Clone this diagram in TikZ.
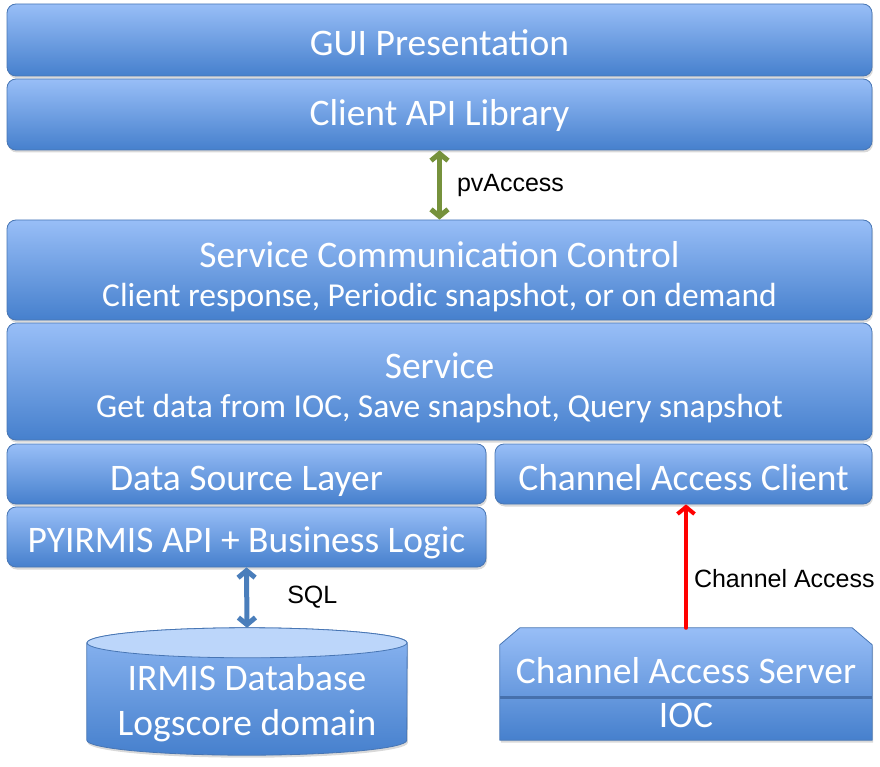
\documentclass[tikz,border=0pt]{standalone}
\usepackage{fontspec}
\setmainfont{Carlito}
\newfontfamily\arialfont{Liberation Sans}
\usepackage{tikz}
\usetikzlibrary{arrows.meta}
\usetikzlibrary{shadows}
\usetikzlibrary{positioning}

\definecolor{layertop}{RGB}{152,190,247}
\definecolor{layerbot}{RGB}{70,128,205}
\definecolor{layerline}{RGB}{72,118,180}
\definecolor{dbtop}{RGB}{188,214,250}
\definecolor{dbbody}{RGB}{140,182,242}
\definecolor{iocsep}{RGB}{70,112,172}
\definecolor{pvgreen}{RGB}{118,146,60}
\definecolor{sqlblue}{RGB}{74,126,187}

\tikzset{
  layer/.style={draw=layerline, line width=0.8pt, rounded corners=9pt,
    top color=layertop, bottom color=layerbot, inner sep=0pt,
    drop shadow={opacity=0.3, shadow xshift=1pt, shadow yshift=-2.5pt}},
  hull/.style={inner sep=0pt},
  layertext/.style={text=white, anchor=base, inner sep=0pt, font=\fontsize{37.5}{41}\selectfont},
  subtext/.style={layertext, font=\fontsize{33.5}{37}\selectfont},
  proto/.style={text=black, inner sep=0pt, font=\arialfont\fontsize{25}{29}\selectfont},
  twoway/.style={line width=5pt, {Straight Barb[length=7pt, width=17pt]}-{Straight Barb[length=7pt, width=17pt]}},
  oneway/.style={line width=4pt, -{Straight Barb[length=7pt, width=17pt]}}
}

\begin{document}
\begin{tikzpicture}[line cap=round,line join=round, x=1pt,y=-1pt]
\useasboundingbox (0,0) rectangle (880,767);
% upper layers
\node[layer, minimum width=865pt, minimum height=72pt] (gui) at (439.5,40) {};
\node[layertext] (guit) at (439.5,56) {GUI Presentation};
\node[layer, minimum width=865pt, minimum height=71pt] (capi) at (439.5,114.5) {};
\node[layertext] (capit) at (439.5,125.5) {Client API Library};
\node[layer, minimum width=865pt, minimum height=100pt] (scc) at (439.5,270) {};
\node[layertext] (scct) at (439.5,267) {Service Communication Control};
\node[subtext] (sccs) at (439.5,306) {Client response, Periodic snapshot, or on demand};
\node[layer, minimum width=865pt, minimum height=117pt] (srv) at (439.5,381.5) {};
\node[layertext] (srvt) at (439.5,378) {Service};
\node[subtext] (srvs) at (439.5,417) {Get data from IOC, Save snapshot, Query snapshot};
% lower layers
\node[layer, minimum width=479pt, minimum height=60pt] (dsl) at (246.5,474) {};
\node[layertext] (dslt) at (246.5,490) {Data Source Layer};
\node[layer, minimum width=479pt, minimum height=60pt] (pyi) at (246.5,537) {};
\node[layertext] (pyit) at (246.5,552) {PYIRMIS API + Business Logic};
\node[layer, minimum width=377pt, minimum height=60pt] (cac) at (683.5,474) {};
\node[layertext] (cact) at (683.5,490) {Channel Access Client};

% database
\node[hull, minimum width=320pt, minimum height=127pt] (irmis) at (247,691.5) {};
\path[draw=layerline, line width=0.8pt, top color=dbbody, bottom color=layerbot,
  drop shadow={opacity=0.3, shadow xshift=1pt, shadow yshift=-2.5pt}]
  ([yshift=-15pt]irmis.north west) -- ([yshift=15pt]irmis.south west)
  arc (180:360:160pt and 15pt) -- ([yshift=-15pt]irmis.north east)
  arc (0:180:160pt and 15pt) -- cycle;
\draw[layerline, line width=0.8pt, fill=dbtop] ([yshift=-15pt]irmis.north) ellipse (160pt and 15pt);
\node[layertext] (irmist) at (247,690) {IRMIS Database};
\node[layertext] (irmiss) at (247,735) {Logscore domain};

% ioc
\node[hull, minimum width=372pt, minimum height=112pt] (ioc) at (686,684) {};
\path[draw=layerline, line width=0.8pt, top color=layertop, bottom color=layerbot,
  drop shadow={opacity=0.3, shadow xshift=1pt, shadow yshift=-2.5pt}]
  ([yshift=-17pt]ioc.north west) -- ([xshift=20pt]ioc.north west)
  -- ([xshift=-20pt]ioc.north east) -- ([yshift=-17pt]ioc.north east)
  -- (ioc.south east) -- (ioc.south west) -- cycle;
\draw[iocsep, line width=3pt, line cap=butt] (ioc.west |- 0,697) -- (ioc.east |- 0,697);
\node[layertext] (cas) at (686,683) {Channel Access Server};
\node[layertext] (iocn) at (686,727) {IOC};

% protocols
\draw[twoway, pvgreen] (capi.south) -- node[proto, right=15pt] (pvlbl) {pvAccess} (scc.north);
\draw[twoway, sqlblue] (pyi.south) -- node[proto, right=38pt] (sqllbl) {SQL} (irmis.north);
\draw[oneway, red] (ioc.north) -- node[proto, right=6pt, pos=0.4] (calbl) {Channel Access} (ioc.north |- cac.south);
\end{tikzpicture}
\end{document}
